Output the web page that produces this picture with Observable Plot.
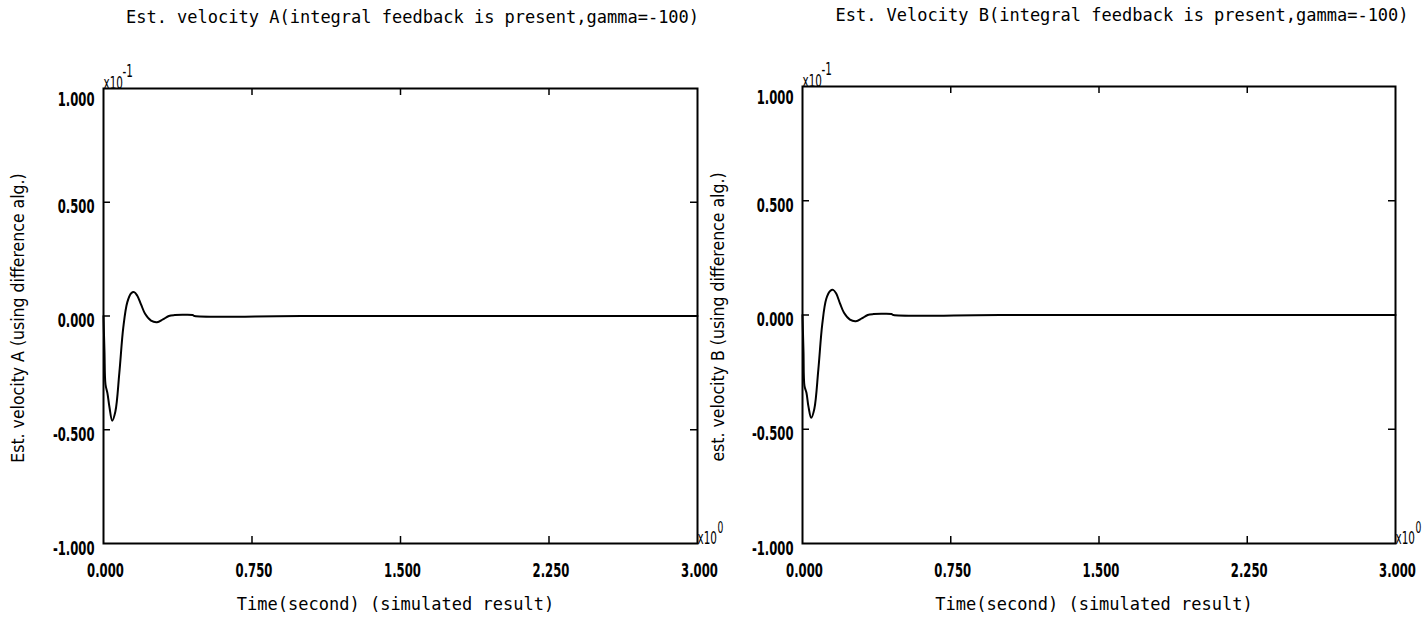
<!DOCTYPE html>
<html>
<head>
<meta charset="utf-8">
<script src="https://cdn.jsdelivr.net/npm/d3@7"></script>
<script src="https://cdn.jsdelivr.net/npm/@observablehq/plot@0.6"></script>
<style>
  html, body { margin: 0; padding: 0; background: white; }
  #wrap { position: relative; width: 1427px; height: 622px; overflow: hidden; }
  #wrap svg { position: absolute; top: 0; background: transparent !important; overflow: visible; }
</style>
</head>
<body>
<div id="wrap"></div>
<script>
// ---- data (y values in units of x10^-1) ----
const time = [0, 0.005, 0.01, 0.02, 0.03, 0.044, 0.06, 0.08, 0.10, 0.12, 0.14, 0.155, 0.17, 0.19, 0.21, 0.24, 0.27, 0.30, 0.33, 0.36, 0.40, 0.45, 0.46, 1.0, 2.0, 3.0];
const velA = [0, -0.16, -0.30, -0.34, -0.40, -0.46, -0.42, -0.25, -0.05, 0.06, 0.10, 0.105, 0.09, 0.05, 0.01, -0.02, -0.027, -0.015, 0.0, 0.004, 0.005, 0.004, 0.0, 0.0, 0.0, 0.0];
const velB = [0, -0.16, -0.31, -0.34, -0.40, -0.45, -0.41, -0.24, -0.04, 0.07, 0.105, 0.11, 0.095, 0.05, 0.01, -0.02, -0.027, -0.015, 0.0, 0.004, 0.005, 0.004, 0.0, 0.0, 0.0, 0.0];
const xTicks = [0, 0.75, 1.5, 2.25, 3];
const xTickLabels = ["0.000", "0.750", "1.500", "2.250", "3.000"];
const yTicks = [-1, -0.5, 0, 0.5, 1];
const yTickLabels = ["-1.000", "-0.500", "0.000", "0.500", "1.000"];
const titles = ["Est. velocity A(integral feedback is present,gamma=-100)",
                "Est. Velocity B(integral feedback is present,gamma=-100)"];
const yLabels = ["Est. velocity A (using difference alg.)",
                 "est. velocity B (using difference alg.)"];
const xLabel = "Time(second) (simulated result)";
const yExp = ["x10", "-1"];
const xExp = ["x10", "0"];

const mono = "'DejaVu Sans Mono', monospace";
const squeezed = "DejaVu Sans Condensed";           // these texts get horizontally compressed
const narrow = "'DejaVu Sans Condensed', sans-serif";

function panel(vel, title, ylabel, opts) {
  const height = 622, marginBottom = 79;
  const ih = height - marginBottom - opts.marginTop;
  const iw = opts.width - opts.marginLeft - opts.marginRight;
  const data = time.map((t, i) => ({t, v: vel[i]}));
  const inner = yTicks.filter(d => Math.abs(d) < 1);
  const innerX = xTicks.filter(d => d > 0 && d < 3);
  return Plot.plot({
    width: opts.width, height,
    marginLeft: opts.marginLeft, marginRight: opts.marginRight,
    marginTop: opts.marginTop, marginBottom,
    style: {background: "transparent", overflow: "visible"},
    x: {domain: [0, 3], axis: null},
    y: {domain: [-1, 1], axis: null},
    marks: [
      // inward tick marks
      Plot.ruleX(innerX, {x: d => d, insetTop: ih - 7, stroke: "black", strokeWidth: 1.5}),
      Plot.ruleX(innerX, {x: d => d, insetBottom: ih - 7, stroke: "black", strokeWidth: 1.5}),
      Plot.ruleY(inner, {y: d => d, insetRight: iw - 7, stroke: "black", strokeWidth: 1.5}),
      Plot.ruleY(inner, {y: d => d, insetLeft: iw - 7, stroke: "black", strokeWidth: 1.5}),
      Plot.frame({stroke: "black", strokeWidth: 2}),
      Plot.line(data, {x: "t", y: "v", stroke: "black", strokeWidth: 2, curve: "catmull-rom"}),
      // tick labels
      Plot.text(xTicks, {x: d => d, text: (d, i) => xTickLabels[i], frameAnchor: "bottom", dy: 27, dx: 2,
        textAnchor: "middle", fontFamily: squeezed, fontSize: 19, fontWeight: "bold", lineAnchor: "middle"}),
      Plot.text(yTicks.filter(d => d < 1), {y: d => d, text: d => yTickLabels[yTicks.indexOf(d)], frameAnchor: "left",
        textAnchor: "end", dx: -9, dy: 5, fontFamily: squeezed, fontSize: 19, fontWeight: "bold", lineAnchor: "middle"}),
      Plot.text([1], {y: d => d, text: d => yTickLabels[yTicks.indexOf(d)], frameAnchor: "left",
        textAnchor: "end", dx: -9, dy: 11, fontFamily: squeezed, fontSize: 19, fontWeight: "bold", lineAnchor: "middle"}),
      // exponents
      Plot.text([yExp[0]], {frameAnchor: "top-left", textAnchor: "start", lineAnchor: "bottom", dx: 0, dy: 0,
        fontFamily: squeezed, fontSize: 17}),
      Plot.text([yExp[1]], {frameAnchor: "top-left", textAnchor: "start", lineAnchor: "bottom", dx: 19, dy: -12,
        fontFamily: squeezed, fontSize: 17}),
      Plot.text([xExp[0]], {frameAnchor: "bottom-right", textAnchor: "start", lineAnchor: "bottom", dx: 0, dy: 0,
        fontFamily: squeezed, fontSize: 17}),
      Plot.text([xExp[1]], {frameAnchor: "bottom-right", textAnchor: "start", lineAnchor: "bottom", dx: 20, dy: -11,
        fontFamily: squeezed, fontSize: 15}),
      // titles and axis labels
      Plot.text([title], {frameAnchor: "top", dx: opts.titleDx, dy: -71, lineAnchor: "middle",
        textAnchor: "middle", fontFamily: mono, fontSize: 17}),
      Plot.text([xLabel], {frameAnchor: "bottom", dx: -5, dy: 61, lineAnchor: "middle",
        textAnchor: "middle", fontFamily: mono, fontSize: 17}),
      Plot.text([ylabel], {frameAnchor: "left", rotate: -90, dx: opts.ylabDx, dy: 2, lineAnchor: "middle",
        textAnchor: "middle", fontFamily: narrow, fontSize: 17.5})
    ]
  });
}

// compress the digit-style texts horizontally (narrow plotter numerals) via textLength
function squeeze(svg, s) {
  svg.querySelectorAll(`g[font-family="${squeezed}"] text`).forEach(el => {
    const len = el.getComputedTextLength();
    if (len > 0) {
      el.setAttribute("textLength", (len * s).toFixed(2));
      el.setAttribute("lengthAdjust", "spacingAndGlyphs");
    }
  });
}

const wrap = document.getElementById("wrap");
const left = panel(velA, titles[0], yLabels[0],
  {width: 713, marginLeft: 103, marginRight: 16, marginTop: 88, titleDx: 12, ylabDx: -85});
left.style.left = "0px";
const right = panel(velB, titles[1], yLabels[1],
  {width: 714, marginLeft: 89, marginRight: 32, marginTop: 86, titleDx: 23, ylabDx: -84});
right.style.left = "713px";
wrap.appendChild(left);
wrap.appendChild(right);
squeeze(left, 0.68);
squeeze(right, 0.68);
</script>
</body>
</html>
